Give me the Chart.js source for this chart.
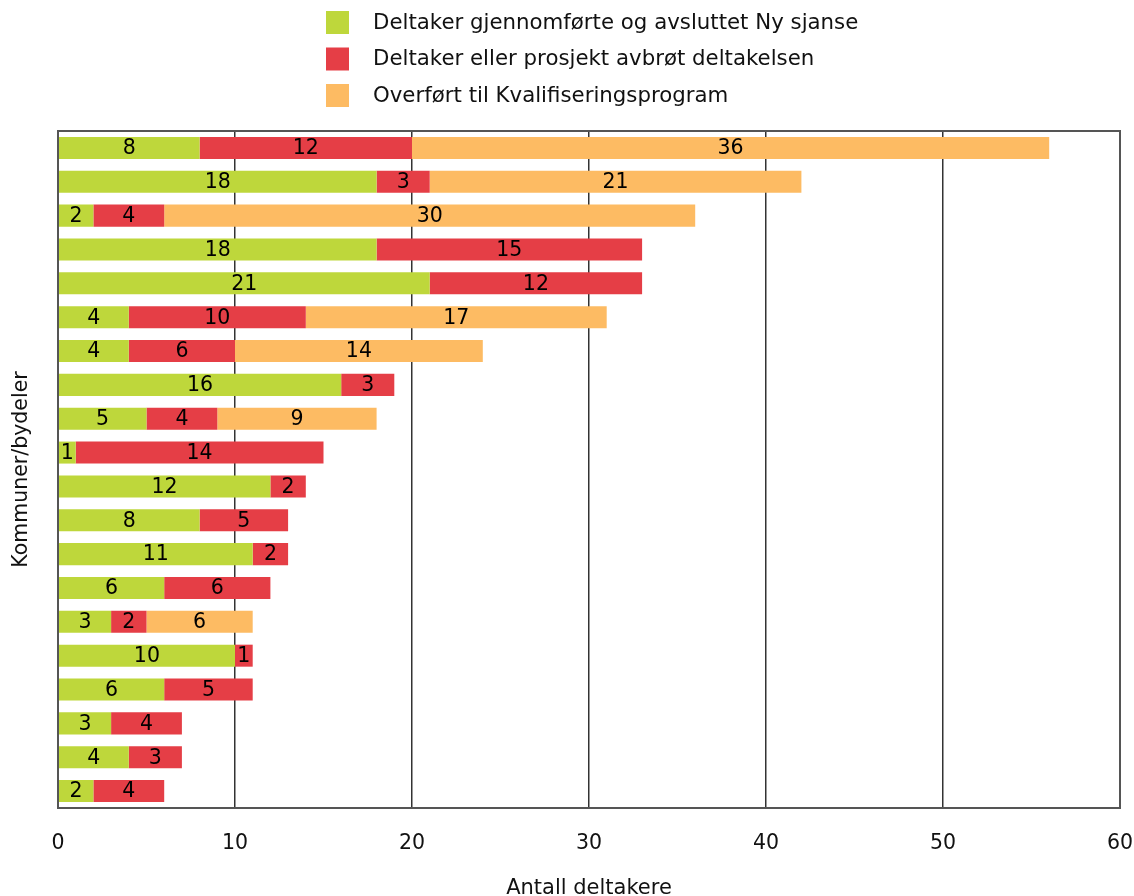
<!DOCTYPE html>
<html>
<head>
<meta charset="utf-8">
<script src="https://cdn.jsdelivr.net/npm/chart.js@4/dist/chart.umd.min.js"></script>
<style>
  html, body { margin: 0; padding: 0; background: #fff; }
  #wrap { width: 1134px; height: 896px; }
</style>
</head>
<body>
<div id="wrap"><canvas id="chart"></canvas></div>
<script>
// Data (top bar first)
const kommuner = ['1','2','3','4','5','6','7','8','9','10','11','12','13','14','15','16','17','18','19','20'];
const gjennomfort = [8, 18, 2, 18, 21, 4, 4, 16, 5, 1, 12, 8, 11, 6, 3, 10, 6, 3, 4, 2];
const avbrutt     = [12, 3, 4, 15, 12, 10, 6, 3, 4, 14, 2, 5, 2, 6, 2, 1, 5, 4, 3, 4];
const overfort    = [36, 21, 30, 0, 0, 17, 14, 0, 9, 0, 0, 0, 0, 0, 6, 0, 0, 0, 0, 0];
const seriesNames = [
  'Deltaker gjennomførte og avsluttet Ny sjanse',
  'Deltaker eller prosjekt avbrøt deltakelsen',
  'Overført til Kvalifiseringsprogram'
];
const xTicks = [0, 10, 20, 30, 40, 50, 60];

const FONT = 'DejaVu Sans';

// numbers inside each bar segment
const segmentLabels = {
  id: 'segmentLabels',
  afterDatasetsDraw(chart) {
    const ctx = chart.ctx;
    ctx.save();
    ctx.font = '20.5px "' + FONT + '"';
    ctx.fillStyle = '#000';
    ctx.textAlign = 'center';
    ctx.textBaseline = 'middle';
    chart.data.datasets.forEach((ds, i) => {
      chart.getDatasetMeta(i).data.forEach((bar, j) => {
        const v = ds.data[j];
        if (!v) return;
        const p = bar.getProps(['x', 'y', 'base'], true);
        ctx.fillText(String(v), (p.x + p.base) / 2, p.y + 1);
      });
    });
    ctx.restore();
  }
};

// frame round the plot + legend at the top
const frameAndLegend = {
  id: 'frameAndLegend',
  afterDraw(chart) {
    const ctx = chart.ctx;
    const a = chart.chartArea;
    ctx.save();
    ctx.strokeStyle = '#555';
    ctx.lineWidth = 2;
    ctx.strokeRect(a.left, a.top, a.right - a.left, a.bottom - a.top);

    ctx.font = '21.3px "' + FONT + '"';
    ctx.textBaseline = 'middle';
    ctx.textAlign = 'left';
    chart.data.datasets.forEach((ds, i) => {
      const y = 11 + i * 36.5;
      ctx.fillStyle = ds.backgroundColor;
      ctx.fillRect(326, y, 23, 23);
      ctx.fillStyle = '#111';
      ctx.fillText(ds.label, 373, y + 12);
    });
    ctx.restore();
  }
};

new Chart(document.getElementById('chart'), {
  type: 'bar',
  data: {
    labels: kommuner,
    datasets: [
      { label: seriesNames[0], data: gjennomfort, backgroundColor: '#bed73b' },
      { label: seriesNames[1], data: avbrutt, backgroundColor: '#e53e46' },
      { label: seriesNames[2], data: overfort, backgroundColor: '#fdbb63' }
    ]
  },
  options: {
    indexAxis: 'y',
    responsive: true,
    maintainAspectRatio: false,
    animation: false,
    layout: { padding: { top: 131, right: 14, left: 0, bottom: 0 } },
    datasets: { bar: { categoryPercentage: 1, barPercentage: 0.65, borderWidth: 0 } },
    plugins: {
      legend: { display: false },
      tooltip: { enabled: false }
    },
    scales: {
      x: {
        stacked: true,
        min: 0,
        max: 60,
        afterBuildTicks: s => { s.ticks = xTicks.map(v => ({ value: v })); },
        afterFit: s => { s.height = 88; s.paddingLeft = 0; s.paddingRight = 0; },
        grid: { color: '#333', lineWidth: 1.5, drawTicks: false },
        border: { display: false },
        ticks: { padding: 23, color: '#111', font: { family: FONT, size: 20.5 } },
        title: { display: true, text: 'Antall deltakere', color: '#111',
                 font: { family: FONT, size: 21 }, padding: { top: 0, bottom: -5 } }
      },
      y: {
        stacked: true,
        afterFit: s => { s.width = 58; },
        grid: { display: false },
        border: { display: false },
        ticks: { display: false },
        title: { display: true, text: 'Kommuner/bydeler', color: '#111',
                 font: { family: FONT, size: 20.5 }, padding: { top: 9, bottom: 0 } }
      }
    }
  },
  plugins: [segmentLabels, frameAndLegend]
});
</script>
</body>
</html>
